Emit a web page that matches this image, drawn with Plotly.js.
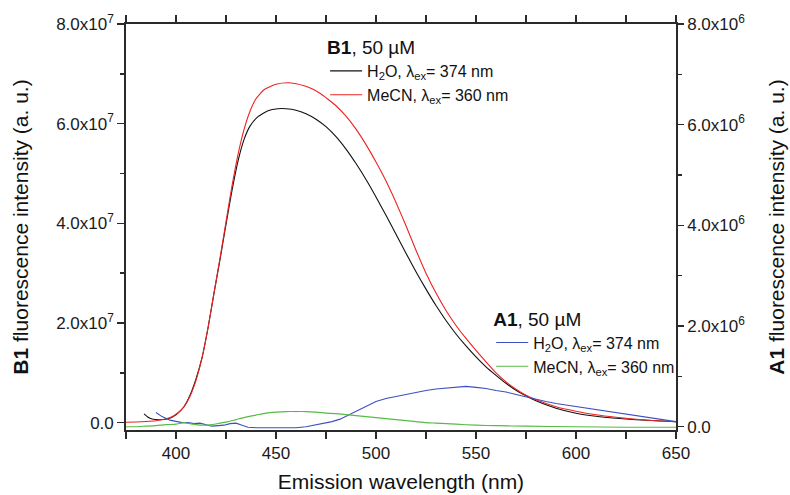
<!DOCTYPE html>
<html>
<head>
<meta charset="utf-8">
<script src="https://cdn.plot.ly/plotly-3.0.1.min.js"></script>
<style>html,body{margin:0;padding:0;background:#fff;}#chart{width:790px;height:495px;}</style>
</head>
<body>
<div id="chart"></div>
<script>
// B1, H2O (left axis)
const b1WaterX = [384,386,388,392,396,400,404,407,410,413,416,419,422,425,428,431,434,437,441,446,451,455,460,465,470,475,480,485,490,495,500,505,510,515,520,525,530,535,540,545,550,555,560,565,570,575,580,590,600,610,620,630,640,650];
const b1WaterY = [0.175,0.11,0.075,0.06,0.08,0.16,0.32,0.55,0.88,1.3,1.9,2.6,3.27,3.98,4.66,5.25,5.68,5.95,6.14,6.26,6.30,6.30,6.27,6.20,6.09,5.94,5.74,5.49,5.20,4.88,4.53,4.16,3.78,3.40,3.03,2.68,2.35,2.05,1.78,1.54,1.32,1.12,0.95,0.79,0.65,0.54,0.44,0.29,0.19,0.13,0.09,0.06,0.04,0.02].map(v => v * 1e7);
// B1, MeCN (left axis)
const b1MecnX = [375,380,385,390,394,398,401,404,407,410,413,416,419,422,425,428,431,434,437,440,444,450,456,460,464,468,472,476,480,485,490,495,500,505,510,515,520,525,530,535,540,545,550,555,560,565,570,575,580,590,600,610,620,630,640,650];
const b1MecnY = [0.01,0.015,0.025,0.04,0.07,0.12,0.2,0.32,0.53,0.85,1.3,1.9,2.6,3.3,4.03,4.75,5.38,5.88,6.25,6.50,6.68,6.79,6.82,6.80,6.76,6.70,6.61,6.49,6.36,6.15,5.89,5.58,5.23,4.85,4.42,3.95,3.46,3.00,2.60,2.25,1.95,1.69,1.45,1.22,1.00,0.82,0.67,0.55,0.46,0.32,0.23,0.16,0.11,0.07,0.04,0.02].map(v => v * 1e7);
// A1, H2O (right axis)
const a1WaterX = [390,393,397,400,403,406,409,412,415,418,421,424,427,430,433,436,440,445,450,455,460,465,470,475,478,482,486,490,495,500,505,510,515,520,525,530,535,540,545,550,555,560,565,570,575,580,585,590,595,600,605,610,615,620,625,630,635,640,645,650];
const a1WaterY = [0.28,0.2,0.13,0.10,0.08,0.08,0.06,0.07,0.04,0.01,0.02,0.03,0.06,0.07,0.03,-0.01,-0.02,-0.02,-0.03,-0.03,-0.02,0.0,0.04,0.08,0.10,0.15,0.23,0.30,0.41,0.50,0.56,0.60,0.65,0.69,0.72,0.75,0.77,0.79,0.80,0.78,0.76,0.72,0.69,0.64,0.59,0.54,0.50,0.46,0.43,0.40,0.37,0.34,0.31,0.28,0.25,0.22,0.19,0.16,0.13,0.10].map(v => v * 1e6);
// A1, MeCN (right axis)
const a1MecnX = [375,380,385,390,395,400,404,407,410,414,418,422,426,430,435,440,445,450,455,460,465,470,475,480,485,490,495,500,505,510,515,520,525,530,540,550,560,575,600,625,650];
const a1MecnY = [0.0,0.0,0.01,0.02,0.04,0.05,0.08,0.06,0.04,0.03,0.04,0.07,0.10,0.14,0.19,0.23,0.27,0.29,0.30,0.30,0.30,0.29,0.27,0.26,0.24,0.22,0.20,0.18,0.16,0.14,0.12,0.10,0.08,0.07,0.05,0.03,0.02,0.01,0.0,-0.01,-0.01].map(v => v * 1e6);

const seriesNames = ['H<sub>2</sub>O, λ<sub>ex</sub>= 374 nm', 'MeCN, λ<sub>ex</sub>= 360 nm'];
const leftTickVals = [0, 2e7, 4e7, 6e7, 8e7];
const leftTickText = ['0.0', '2.0x10<sup>7</sup>', '4.0x10<sup>7</sup>', '6.0x10<sup>7</sup>', '8.0x10<sup>7</sup>'];
const leftMinor = [1e7, 3e7, 5e7, 7e7];
const rightTickVals = [0, 2e6, 4e6, 6e6, 8e6];
const rightTickText = ['0.0', '2.0x10<sup>6</sup>', '4.0x10<sup>6</sup>', '6.0x10<sup>6</sup>', '8.0x10<sup>6</sup>'];
const rightMinor = [1e6, 3e6, 5e6, 7e6];

const FONT = 'Liberation Sans, Arial, sans-serif';
const AX = '#2a2a2a';

const traces = [
  {x: b1WaterX, y: b1WaterY, name: seriesNames[0], type: 'scatter', mode: 'lines', line: {color: '#111111', width: 1.1, shape: 'spline', smoothing: 0.5}, yaxis: 'y', legend: 'legend'},
  {x: b1MecnX, y: b1MecnY, name: seriesNames[1], type: 'scatter', mode: 'lines', line: {color: '#ee2222', width: 1.1, shape: 'spline', smoothing: 0.5}, yaxis: 'y', legend: 'legend'},
  {x: a1WaterX, y: a1WaterY, name: seriesNames[0], type: 'scatter', mode: 'lines', line: {color: '#3d4fbf', width: 1.1}, yaxis: 'y2', legend: 'legend2'},
  {x: a1MecnX, y: a1MecnY, name: seriesNames[1], type: 'scatter', mode: 'lines', line: {color: '#55bb44', width: 1.1, shape: 'spline', smoothing: 0.5}, yaxis: 'y2', legend: 'legend2'}
];

const layout = {
  width: 790, height: 495,
  margin: {l: 126, r: 114, t: 24, b: 65},
  paper_bgcolor: '#ffffff', plot_bgcolor: '#ffffff',
  font: {family: FONT, color: '#1a1a1a'},
  showlegend: true,
  xaxis: {
    range: [375, 650], tickmode: 'linear', tick0: 400, dtick: 50,
    ticks: 'outside', ticklen: 7, tickwidth: 1.5, tickcolor: AX,
    minor: {ticks: 'outside', ticklen: 4, tickwidth: 1.5, tickcolor: AX, dtick: 25, tick0: 375, showgrid: false},
    showline: true, linecolor: AX, linewidth: 1.8, mirror: 'allticks',
    showgrid: false, zeroline: false,
    tickfont: {size: 17, family: FONT, color: '#1a1a1a'},
    title: {text: 'Emission wavelength (nm)', font: {size: 21, family: FONT, color: '#111'}, standoff: 12},
    automargin: false
  },
  yaxis: {
    range: [-1.47e6, 8e7], tickmode: 'array', tickvals: leftTickVals, ticktext: leftTickText,
    ticks: 'outside', ticklen: 7, tickwidth: 1.5, tickcolor: AX,
    minor: {ticks: 'outside', ticklen: 4, tickwidth: 1.5, tickcolor: AX, tickvals: leftMinor, showgrid: false},
    showline: true, linecolor: AX, linewidth: 1.8,
    showgrid: false, zeroline: false,
    tickfont: {size: 17, family: FONT, color: '#1a1a1a'},
    title: {text: '<b>B1</b> fluorescence intensity (a. u.)', font: {size: 21, family: FONT, color: '#111'}, standoff: 22},
    automargin: false
  },
  yaxis2: {
    range: [-0.066e6, 8e6], overlaying: 'y', side: 'right', anchor: 'x',
    tickmode: 'array', tickvals: rightTickVals, ticktext: rightTickText,
    ticks: 'outside', ticklen: 6, tickwidth: 1.5, tickcolor: AX,
    minor: {ticks: 'outside', ticklen: 4, tickwidth: 1.5, tickcolor: AX, tickvals: rightMinor, showgrid: false},
    showline: true, linecolor: AX, linewidth: 1.8,
    showgrid: false, zeroline: false,
    tickfont: {size: 17, family: FONT, color: '#1a1a1a'},
    title: {text: '<b>A1</b> fluorescence intensity (a. u.)', font: {size: 21, family: FONT, color: '#111'}, standoff: 25},
    automargin: false
  },
  legend: {
    x: 0.362, y: 0.987, xanchor: 'left', yanchor: 'top',
    bgcolor: 'rgba(0,0,0,0)', borderwidth: 0, itemwidth: 32, tracegroupgap: 0,
    font: {size: 16, family: FONT, color: '#111'},
    title: {text: '<b>B1</b>, 50 µM', font: {size: 19, family: FONT, color: '#111'}}
  },
  legend2: {
    x: 0.664, y: 0.318, xanchor: 'left', yanchor: 'top',
    bgcolor: 'rgba(0,0,0,0)', borderwidth: 0, itemwidth: 32, tracegroupgap: 0,
    font: {size: 16, family: FONT, color: '#111'},
    title: {text: '<b>A1</b>, 50 µM', font: {size: 19, family: FONT, color: '#111'}}
  }
};

Plotly.newPlot('chart', traces, layout, {displayModeBar: false, staticPlot: true});
</script>
</body>
</html>
